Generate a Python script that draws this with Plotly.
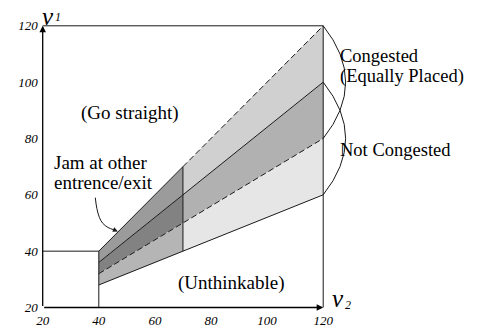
import plotly.graph_objects as go

# ---------------- data ----------------
v2_pts = [40, 70, 120]          # break points on the v2 axis
upper = [40, 70, 120]           # v1 = v2 line
middle = [36, 60, 100]          # middle solid line
lower = [32, 50, 80]            # lower dashed line
bottom = [28, 40, 60]           # bottom solid line
x_ticks = [20, 40, 60, 80, 100, 120]
y_ticks = [20, 40, 60, 80, 100, 120]
axis_min, axis_max = 20, 120
jam_level = 40

# ---------------- geometry of the canvas ----------------
W, H = 488, 329
X0_PX, XS = 42.7, 2.805      # px of v2=20, px per unit
Y0_PX, YS = 307.5, 2.817     # px (from top) of v1=20, px per unit
xr = [20 - X0_PX / XS, 20 + (W - X0_PX) / XS]
yr = [20 - (H - Y0_PX) / YS, 20 + Y0_PX / YS]

def px(x):
    return x / W

def py(y):
    return 1 - y / H

SERIF = "Liberation Serif, Times New Roman, serif"
LINE = "#1a1a1a"

fig = go.Figure()

def poly(xs, ys, color):
    fig.add_trace(go.Scatter(x=xs + [xs[0]], y=ys + [ys[0]], mode="lines",
                             fill="toself", fillcolor=color,
                             line=dict(width=0), hoverinfo="skip",
                             showlegend=False))

# right part (70 - 120)
poly([v2_pts[1], v2_pts[2], v2_pts[2], v2_pts[1]],
     [upper[1], upper[2], middle[2], middle[1]], "#d0d0d0")
poly([v2_pts[1], v2_pts[2], v2_pts[2], v2_pts[1]],
     [middle[1], middle[2], lower[2], lower[1]], "#b1b1b1")
poly([v2_pts[1], v2_pts[2], v2_pts[2], v2_pts[1]],
     [lower[1], lower[2], bottom[2], bottom[1]], "#e6e6e6")
# left part (40 - 70)
poly([v2_pts[0], v2_pts[1], v2_pts[1], v2_pts[0]],
     [upper[0], upper[1], middle[1], middle[0]], "#9b9b9b")
poly([v2_pts[0], v2_pts[1], v2_pts[1], v2_pts[0]],
     [middle[0], middle[1], lower[1], lower[0]], "#828282")
poly([v2_pts[0], v2_pts[1], v2_pts[1], v2_pts[0]],
     [lower[0], lower[1], bottom[1], bottom[0]], "#b5b5b5")

def line(xs, ys, dash="solid", width=1.0, color=LINE):
    fig.add_trace(go.Scatter(x=xs, y=ys, mode="lines",
                             line=dict(color=color, width=width, dash=dash),
                             hoverinfo="skip", showlegend=False))

DASH = "6px,3px"
line(v2_pts[0:2], upper[0:2])
line(v2_pts[1:3], upper[1:3], dash=DASH)
line(v2_pts, middle)
line(v2_pts, lower, dash=DASH)
line(v2_pts, bottom)
line([v2_pts[1], v2_pts[1]], [bottom[1], upper[1]])
line([v2_pts[0], v2_pts[0]], [axis_min, upper[0]])
line([axis_min, v2_pts[0]], [jam_level, jam_level])
line([axis_max, axis_max], [axis_min, axis_max])
line([axis_min, axis_max], [axis_max, axis_max])

# curved pointer from the "Jam" label
curve_x = [38.75, 39.3, 40.2, 41.4, 43.3, 45.6]
curve_y = [59.0, 55.2, 52.0, 49.9, 48.4, 47.5]
fig.add_trace(go.Scatter(x=curve_x, y=curve_y, mode="lines",
                         line=dict(color=LINE, width=1, shape="spline"),
                         hoverinfo="skip", showlegend=False))

annotations = []
# axis arrows
annotations.append(dict(x=axis_max, y=axis_min, ax=axis_min, ay=axis_min,
                        xref="x", yref="y", axref="x", ayref="y", text="",
                        showarrow=True, arrowhead=2, arrowsize=1.0,
                        arrowwidth=1.3, arrowcolor="#000"))
annotations.append(dict(x=axis_min, y=axis_max, ax=axis_min, ay=axis_min,
                        xref="x", yref="y", axref="x", ayref="y", text="",
                        showarrow=True, arrowhead=2, arrowsize=1.0,
                        arrowwidth=1.3, arrowcolor="#000"))
# pointer arrowhead
annotations.append(dict(x=46.8, y=47.0, ax=45.2, ay=47.7,
                        xref="x", yref="y", axref="x", ayref="y", text="",
                        showarrow=True, arrowhead=2, arrowsize=1.0,
                        arrowwidth=1.0, arrowcolor=LINE))

def label(text, x, y, size=19, xanchor="left", yanchor="middle"):
    annotations.append(dict(text=text, x=px(x), y=py(y), xref="paper",
                            yref="paper", showarrow=False, xanchor=xanchor,
                            yanchor=yanchor,
                            font=dict(family=SERIF, size=size, color="#000")))

label("(Go straight)", 130, 113, xanchor="center")
label("(Unthinkable)", 231.7, 282.5, xanchor="center")
label("Jam at other", 52, 162.5)
label("entrence/exit", 52, 182.5)
label("Congested", 338, 56, size=18.5)
label("(Equally Placed)", 338, 76.5, size=18.5)
label("Not Congested", 338, 149.5, size=18.5)
label("<i>v</i>", 47.8, 0.5, size=25, xanchor="center", yanchor="top")
label("<i>1</i>", 57.5, 16.5, size=12, xanchor="center")
label("<i>v</i>", 337.5, 298.5, size=25, xanchor="center")
label("<i>2</i>", 348, 305, size=12, xanchor="center")

shapes = [
    dict(type="path", xref="x", yref="y",
         path=f"M {axis_max},{upper[2]} Q 136,{middle[2]} {axis_max},{lower[2]}",
         line=dict(color=LINE, width=1)),
    dict(type="path", xref="x", yref="y",
         path=f"M {axis_max},{middle[2]} Q 136,{lower[2]} {axis_max},{bottom[2]}",
         line=dict(color=LINE, width=1)),
]

tickfont = dict(family=SERIF, size=13, color="#000")
fig.update_layout(
    width=W, height=H, margin=dict(l=0, r=0, t=0, b=0),
    paper_bgcolor="white", plot_bgcolor="white",
    showlegend=False, annotations=annotations, shapes=shapes,
    xaxis=dict(range=xr, domain=[0, 1], anchor="free", position=1 - Y0_PX / H,
               tickvals=x_ticks, ticktext=[f"<i>{t}</i>" for t in x_ticks],
               showgrid=False, zeroline=False, showline=False, ticks="",
               tickfont=tickfont, fixedrange=True, ticklabelstandoff=3),
    yaxis=dict(range=yr, domain=[0, 1], anchor="free", position=X0_PX / W,
               tickvals=y_ticks, ticktext=[f"<i>{t}</i>" for t in y_ticks],
               showgrid=False, zeroline=False, showline=False, ticks="",
               tickfont=tickfont, fixedrange=True, ticklabelstandoff=5),
)

fig.write_html("out.html")
